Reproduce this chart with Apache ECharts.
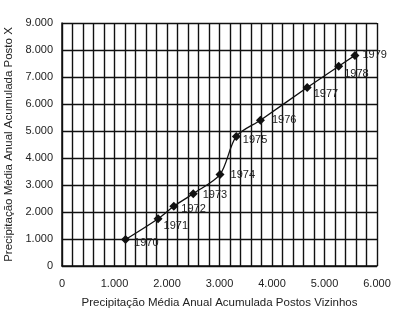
<!DOCTYPE html>
<html><head><meta charset="utf-8">
<script src="https://cdn.jsdelivr.net/npm/echarts@6/dist/echarts.min.js"></script>
<style>html,body{margin:0;padding:0;background:#fff}#c{width:410px;height:327px}</style>
</head><body><div id="c"></div>
<script>
const years = ['1970','1971','1972','1973','1974','1975','1976','1977','1978','1979'];
const xValues = [1210, 1830, 2130, 2500, 3010, 3320, 3780, 4670, 5270, 5580];
const yValues = [980, 1750, 2210, 2680, 3390, 4800, 5400, 6610, 7400, 7800];
const xTicks = [0, 1000, 2000, 3000, 4000, 5000, 6000];
const yTicks = [0, 1000, 2000, 3000, 4000, 5000, 6000, 7000, 8000, 9000];
const xTitle = 'Precipitação Média Anual Acumulada Postos Vizinhos';
const yTitle = 'Precipitação Média Anual Acumulada Posto X';

// label placement (style only): pixel offsets of each year label from its marker
const labelOffsets = [[3,3],[0,7],[2,3],[4,1],[5,0],[1,4],[6,0],[1,6],[0,8],[2,0]];

const FONT = "'Liberation Sans', Arial, sans-serif";
const fmt = v => v === 0 ? '0' : (v / 1000).toFixed(3);
const data = years.map((y, i) => ({
  value: [xValues[i], yValues[i]], name: y,
  label: { offset: labelOffsets[i] }
}));

const chart = echarts.init(document.getElementById('c'), null, { renderer: 'canvas' });
chart.setOption({
  animation: false,
  backgroundColor: '#fff',
  grid: { left: 62, right: 33, top: 23, bottom: 61, containLabel: false, outerBoundsMode: 'none' },
  xAxis: {
    type: 'value', min: xTicks[0], max: xTicks[xTicks.length - 1], interval: 1000,
    name: xTitle, nameLocation: 'middle', nameGap: 31,
    nameTextStyle: { fontFamily: FONT, fontSize: 11.5, color: '#222' },
    axisLine: { show: true, lineStyle: { color: '#111', width: 1.5 } },
    axisTick: { show: false },
    axisLabel: { formatter: fmt, fontFamily: FONT, fontSize: 11, color: '#222', margin: 12 },
    splitLine: { show: true, lineStyle: { color: '#111', width: 1.4 } },
    minorTick: { show: false, splitNumber: 5 },
    minorSplitLine: { show: true, lineStyle: { color: '#111', width: 1.4 } }
  },
  yAxis: {
    type: 'value', min: yTicks[0], max: yTicks[yTicks.length - 1], interval: 1000,
    name: yTitle, nameLocation: 'middle', nameGap: 41, nameRotate: 90,
    nameTextStyle: { fontFamily: FONT, fontSize: 11.5, color: '#222' },
    axisLine: { show: true, lineStyle: { color: '#111', width: 1.5 } },
    axisTick: { show: false },
    axisLabel: { formatter: fmt, fontFamily: FONT, fontSize: 11, color: '#222', margin: 9 },
    splitLine: { show: true, lineStyle: { color: '#111', width: 1.4 } }
  },
  series: [{
    type: 'line', data: data, smooth: 0.3,
    symbol: 'diamond', symbolSize: 9,
    itemStyle: { color: '#111' },
    lineStyle: { color: '#111', width: 1.3 },
    label: {
      show: true, position: 'right', distance: 1,
      formatter: p => p.name, fontFamily: FONT, fontSize: 11, color: '#222'
    }
  }]
});
</script></body></html>
